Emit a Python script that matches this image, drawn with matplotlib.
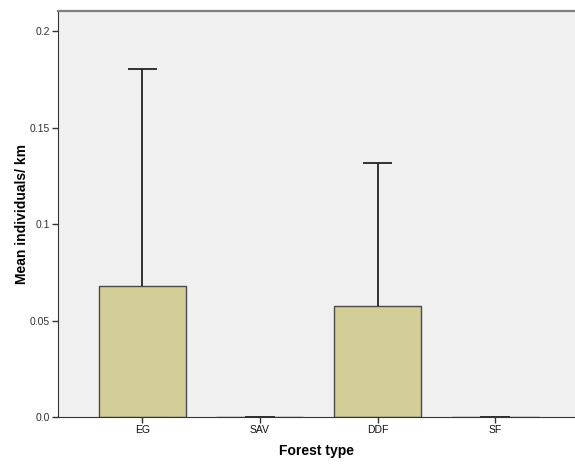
import matplotlib
matplotlib.use("Agg")
import matplotlib.pyplot as plt
import numpy as np

categories = ["EG", "SAV", "DDF", "SF"]
means = [0.0679, 0.0, 0.0575, 0.0]
upper_err = [0.1124, 0.0, 0.0741, 0.0]
yticks = [0.0, 0.05, 0.1, 0.15, 0.2]
ytick_labels = ["0.0", "0.05", "0.1", "0.15", "0.2"]

plt.rcParams['font.family'] = ['Liberation Sans', 'DejaVu Sans']

fig = plt.figure(figsize=(5.75, 4.66), dpi=100)
ax = fig.add_axes([58/575, 49/466, 517/575, 406/466])
ax.set_facecolor('#F0F0F0')

x = np.arange(len(categories))
m = np.array(means)
tops = m + np.array(upper_err)
ax.bar(x, m, width=0.74, color='#D3CE98', edgecolor='#4a4a4a', linewidth=1.0, zorder=2)
ax.vlines(x, m, tops, colors='#222222', linewidth=1.3, zorder=3)
ax.hlines(tops, x - 0.125, x + 0.125, colors='#222222', linewidth=1.3, zorder=3)

ax.set_xlim(-0.718, 3.68)
ax.set_ylim(0, 0.2104)
ax.set_xticks(x)
ax.set_xticklabels(categories, fontsize=7.5)
ax.set_yticks(yticks)
ax.set_yticklabels(ytick_labels, fontsize=7.5, color='#333333')
ax.tick_params(axis='both', length=4, width=1, color='#333333', pad=2)
for lab in ax.get_xticklabels():
    lab.set_color('#111111')

ax.spines['left'].set_color('#333333')
ax.spines['bottom'].set_color('#333333')
ax.spines['top'].set_color('#808080')
ax.spines['top'].set_linewidth(1.6)
ax.spines['right'].set_visible(False)

ax.set_xlabel("Forest type", fontsize=10, fontweight='bold', labelpad=6)
ax.set_ylabel("Mean individuals/ km", fontsize=10, fontweight='bold', labelpad=0)

fig.savefig("out.png", dpi=100)
